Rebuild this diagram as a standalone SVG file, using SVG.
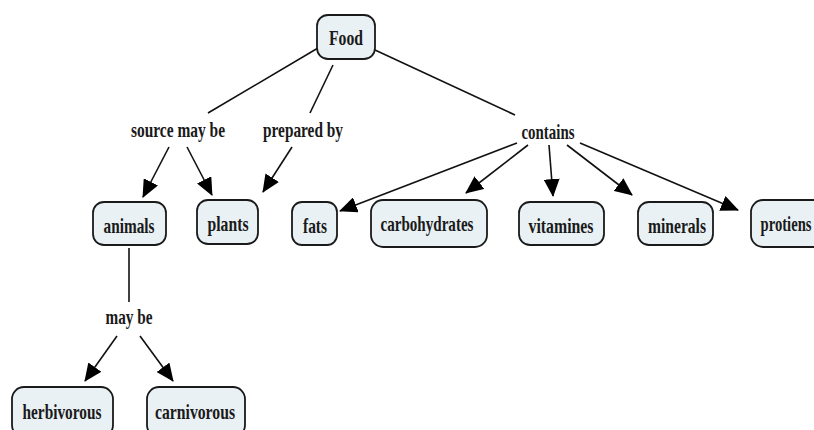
<svg xmlns="http://www.w3.org/2000/svg" width="814" height="430" viewBox="0 0 814 430">
<style>
.box{fill:#e9f1f5;stroke:#1a1a1a;stroke-width:1.8}
.t{font-family:"Liberation Serif","Times New Roman",serif;font-weight:bold;font-size:21px;fill:#1a1a1a;text-anchor:middle}
.c{stroke:#111;stroke-width:1.6;fill:none}
</style>
<defs>
<marker id="ah" viewBox="0 0 18 16" refX="17" refY="8" markerWidth="18" markerHeight="16" orient="auto" markerUnits="userSpaceOnUse">
<path d="M0,0 L18,8 L0,16 z" fill="#000"/>
</marker>
</defs>
<rect width="814" height="430" fill="#fff"/>
<g id="connectors">
<line class="c" x1="318" y1="48" x2="208" y2="113"/>
<line class="c" x1="333" y1="65" x2="310" y2="113"/>
<line class="c" x1="375" y1="50" x2="515" y2="115"/>
<line class="c" x1="169" y1="147" x2="143" y2="197" marker-end="url(#ah)"/>
<line class="c" x1="187" y1="147" x2="212" y2="195" marker-end="url(#ah)"/>
<line class="c" x1="292" y1="147" x2="263" y2="192" marker-end="url(#ah)"/>
<line class="c" x1="517" y1="143" x2="340" y2="211" marker-end="url(#ah)"/>
<line class="c" x1="528" y1="145" x2="466" y2="193" marker-end="url(#ah)"/>
<line class="c" x1="549" y1="145" x2="553" y2="196" marker-end="url(#ah)"/>
<line class="c" x1="567" y1="145" x2="632" y2="195" marker-end="url(#ah)"/>
<line class="c" x1="580" y1="143" x2="738" y2="210" marker-end="url(#ah)"/>
<line class="c" x1="129" y1="248" x2="129" y2="302"/>
<line class="c" x1="117" y1="336" x2="85" y2="381" marker-end="url(#ah)"/>
<line class="c" x1="140" y1="336" x2="173" y2="381" marker-end="url(#ah)"/>
</g>
<g id="lbl-source"><text class="t" x="178" y="137" textLength="94" lengthAdjust="spacingAndGlyphs">source may be</text></g>
<g id="lbl-prepared"><text class="t" x="303" y="137" textLength="80" lengthAdjust="spacingAndGlyphs">prepared by</text></g>
<g id="lbl-contains"><text class="t" x="548" y="139" textLength="53" lengthAdjust="spacingAndGlyphs">contains</text></g>
<g id="lbl-maybe"><text class="t" x="129" y="324" textLength="47" lengthAdjust="spacingAndGlyphs">may be</text></g>
<g id="food"><rect class="box" x="317" y="15" width="58" height="44" rx="11"/><text class="t" x="346" y="45" textLength="34" lengthAdjust="spacingAndGlyphs">Food</text></g>
<g id="animals"><rect class="box" x="93" y="202" width="73" height="43" rx="11"/><text class="t" x="129" y="233" textLength="51" lengthAdjust="spacingAndGlyphs">animals</text></g>
<g id="plants"><rect class="box" x="197" y="200" width="61" height="44" rx="11"/><text class="t" x="228" y="231" textLength="41" lengthAdjust="spacingAndGlyphs">plants</text></g>
<g id="fats"><rect class="box" x="292" y="202" width="45" height="43" rx="10"/><text class="t" x="315" y="233" textLength="24" lengthAdjust="spacingAndGlyphs">fats</text></g>
<g id="carbohydrates"><rect class="box" x="371" y="200" width="116" height="47" rx="12"/><text class="t" x="427" y="231" textLength="93" lengthAdjust="spacingAndGlyphs">carbohydrates</text></g>
<g id="vitamines"><rect class="box" x="519" y="202" width="85" height="43" rx="11"/><text class="t" x="561" y="233" textLength="65" lengthAdjust="spacingAndGlyphs">vitamines</text></g>
<g id="minerals"><rect class="box" x="638" y="202" width="75" height="43" rx="11"/><text class="t" x="677" y="233" textLength="58" lengthAdjust="spacingAndGlyphs">minerals</text></g>
<g id="protiens"><rect class="box" x="751" y="200" width="80" height="47" rx="12"/><text class="t" x="786" y="231" textLength="51" lengthAdjust="spacingAndGlyphs">protiens</text></g>
<g id="herbivorous"><rect class="box" x="12" y="387" width="101" height="50" rx="12"/><text class="t" x="62" y="419" textLength="79" lengthAdjust="spacingAndGlyphs">herbivorous</text></g>
<g id="carnivorous"><rect class="box" x="147" y="387" width="98" height="50" rx="12"/><text class="t" x="195" y="419" textLength="80" lengthAdjust="spacingAndGlyphs">carnivorous</text></g>
</svg>
